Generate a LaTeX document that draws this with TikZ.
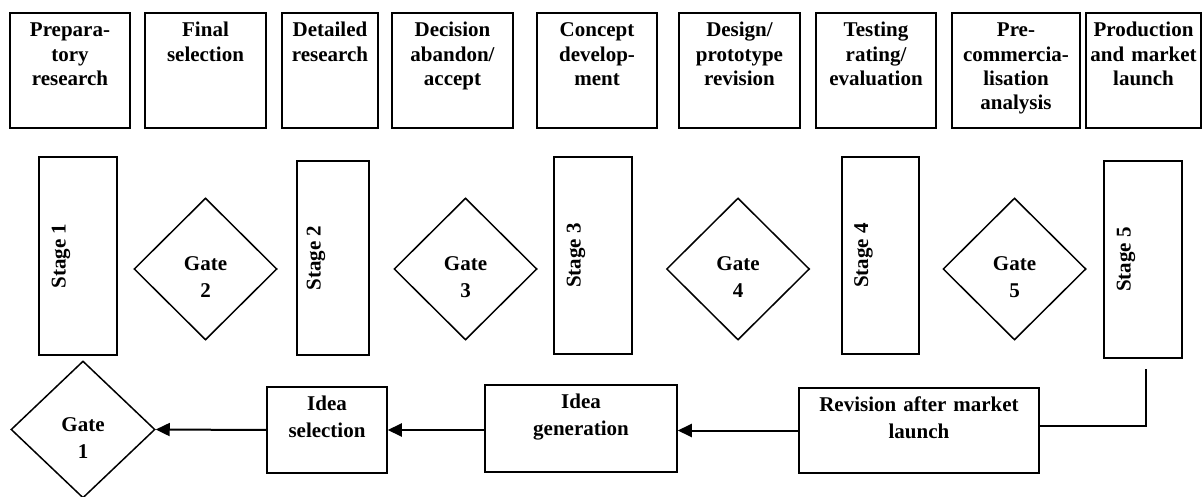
\documentclass[tikz,border=0pt]{standalone}
\usepackage{fontspec}
\setmainfont{Liberation Serif}
\usetikzlibrary{shapes.geometric,arrows.meta}

\begin{document}
\begin{tikzpicture}[x=1pt,y=-1pt]
  \useasboundingbox (0,0) rectangle (1203,497);

  % activities along the top
  \begin{scope}[every node/.style={draw, line width=1.5pt, inner sep=0pt, align=center,
      text height=24pt, text depth=91pt, font=\bfseries\fontsize{21}{24.3}\selectfont}]
    \node[text width=120pt] (p1) at (70,70.5)    {Prepara-\\tory\\research};
    \node[text width=121pt] (p2) at (205.5,70.5) {Final\\selection};
    \node[text width=96pt]  (p3) at (330,70.5)   {Detailed\\research};
    \node[text width=121pt] (p4) at (452.5,70.5) {Decision\\abandon/\\accept};
    \node[text width=120pt] (p5) at (597,70.5)   {Concept\\develop-\\ment};
    \node[text width=121pt] (p6) at (739.5,70.5) {Design/\\prototype\\revision};
    \node[text width=120pt] (p7) at (876,70.5)   {Testing\\rating/\\evaluation};
    \node[text width=128pt] (p8) at (1016,70.5)  {Pre-\\commercia-\\lisation\\analysis};
    \node[text width=115pt] (p9) at (1143.5,70.5){Production\\and market\\launch};
  \end{scope}

  % stages, written upwards
  \begin{scope}[every node/.style={draw, line width=1.5pt, rotate=90, inner sep=0pt,
      text height=10pt, text depth=35pt, minimum height=78pt,
      font=\bfseries\fontsize{21}{24}\selectfont}]
    \node[minimum width=198pt] (s1) at (78,256)      {Stage 1};
    \node[minimum width=194pt, minimum height=72pt] (s2) at (333,258) {Stage 2};
    \node[minimum width=197pt] (s3) at (593,255.5)   {Stage 3};
    \node[minimum width=197pt, minimum height=77pt] (s4) at (880.5,255.5) {Stage 4};
    \node[minimum width=197pt] (s5) at (1143,259.5)  {Stage 5};
  \end{scope}

  % gates
  \begin{scope}[every node/.style={diamond, draw, line width=1.5pt, inner sep=0pt,
      text width=60pt, align=center, text height=16pt, text depth=12pt,
      minimum width=143pt, minimum height=142pt,
      font=\bfseries\fontsize{21}{27}\selectfont}]
    \node[minimum width=144pt, minimum height=137pt] (g1) at (83,429.5) {Gate\\1};
    \node (g2) at (205.5,269) {Gate\\2};
    \node (g3) at (465.5,269) {Gate\\3};
    \node (g4) at (738,269)   {Gate\\4};
    \node (g5) at (1014.5,269){Gate\\5};
  \end{scope}

  % feedback row
  \begin{scope}[every node/.style={draw, line width=1.5pt, inner sep=0pt, align=center,
      text height=23.5pt, font=\bfseries\fontsize{21}{27}\selectfont}]
    \node[text width=120pt, text depth=62.5pt] (isel) at (327,430)   {Idea\\selection};
    \node[text width=192pt, text depth=63.5pt] (igen) at (581,428.5) {Idea\\generation};
    \node[text width=240pt, text depth=61.5pt] (rev)  at (919,430.5) {Revision after market\\launch};
  \end{scope}

  \begin{scope}[>={Triangle[length=14pt,width=13pt]},
      every edge/.style={draw, line width=2pt}]
    \coordinate (turn) at (1146,426);
    \coordinate (back) at (1146,369);
    \draw[line width=2pt] (turn -| rev.east) -- (turn) -- (back);
    \path (rev.west) edge[->] (rev.west -| igen.east);
    \path (igen.west |- isel.east) edge[->] (isel.east);
    \path (isel.west) edge[->] (g1.east);
  \end{scope}

\end{tikzpicture}
\end{document}
